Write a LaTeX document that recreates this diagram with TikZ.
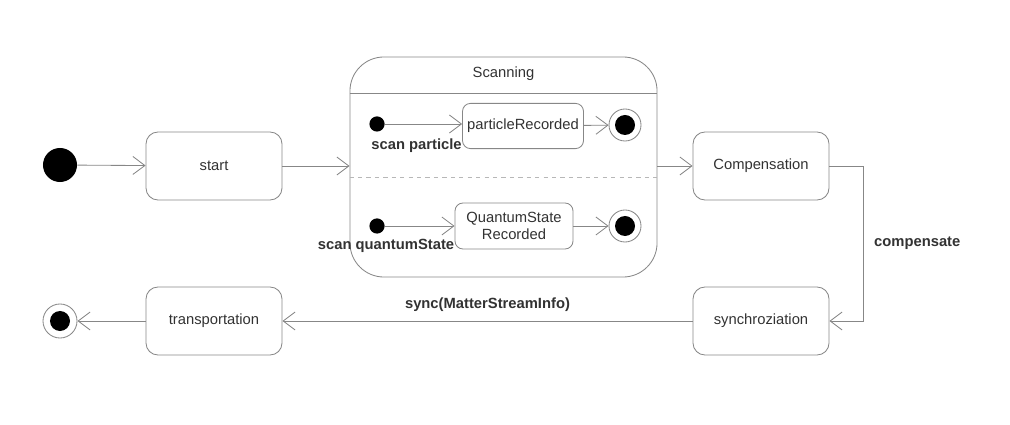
\documentclass[tikz,border=0pt]{standalone}
\usepackage{fontspec}
\setmainfont{Liberation Sans}
\usetikzlibrary{arrows.meta}

\definecolor{linegray}{RGB}{135,135,135}
\definecolor{textgray}{RGB}{50,50,50}

\tikzset{
  statebox/.style={draw=linegray, line width=0.6pt, rounded corners=3mm, text=textgray,
    minimum width=3.4cm, minimum height=1.7cm, align=center, font=\fontsize{10.5}{12.5}\selectfont},
  smallbox/.style={statebox, rounded corners=2mm, minimum width=2.95cm, minimum height=1.13cm},
  initial/.style={circle, fill=black, inner sep=0pt, minimum size=#1},
  final/.style={circle, draw=linegray, line width=0.6pt, inner sep=0pt, minimum size=0.8cm,
    path picture={\fill[black] (path picture bounding box.center) circle (0.25cm);}},
  flow/.style={draw=linegray, line width=0.6pt, -{Straight Barb[length=3mm,width=4.5mm]}},
  trlabel/.style={text=textgray, font=\fontsize{10.5}{12.5}\selectfont\bfseries}
}

\begin{document}
\begin{tikzpicture}[x=0.025cm,y=-0.025cm]

  \useasboundingbox (0,0) rectangle (1010,425);

  % main states
  \node[initial=0.85cm] (init) at (60,165) {};
  \node[statebox] (start) at (214,166) {start};
  \node[statebox] (comp) at (761,166) {Compensation};
  \node[statebox] (sync) at (761,321) {synchroziation};
  \node[statebox] (trans) at (214,321) {transportation};
  \node[final, minimum size=0.85cm] (end) at (60,321) {};

  % composite state
  \node[draw=linegray, line width=0.6pt, rounded corners=8.5mm, minimum width=7.675cm, minimum height=5.5cm] (scan) at (503.5,167) {};
  \node[text=textgray, font=\fontsize{10.5}{12.5}\selectfont] (scantitle) at (503.5,74) {Scanning};
  \draw[linegray, line width=0.6pt] (scan.west |- 0,93) -- (scan.east |- 0,93);
  \draw[linegray!60, dashed] (scan.west |- 0,177) -- (scan.east |- 0,177);

  % upper region
  \node[initial=0.38cm] (pinit) at (377,124) {};
  \node[smallbox] (prec) at (523,126) {particleRecorded};
  \node[final] (pend) at (625,125) {};

  % lower region
  \node[initial=0.38cm] (qinit) at (377,226) {};
  \node[smallbox, minimum width=2.95cm, minimum height=1.15cm] (qrec) at (514,226) {QuantumState\\[-1pt]Recorded};
  \node[final] (qend) at (625,226) {};

  % transitions
  \draw[flow] (init) -- (start);
  \draw[flow] (start.east) -- (start.east -| scan.west);
  \draw[flow] (scan.east |- comp) -- (comp);
  \draw[flow] (pinit) -- (pinit -| prec.west)
    node[trlabel, anchor=north east, inner sep=0pt, yshift=-10pt] (plabel) {scan particle};
  \draw[flow] (prec) -- (pend);
  \draw[flow] (qinit) -- (qinit -| qrec.west)
    node[trlabel, anchor=north east, inner sep=0pt, yshift=-9pt] (qlabel) {scan quantumState};
  \draw[flow] (qrec) -- (qend);
  \draw[flow] (comp.east) -- ++(34,0) |- (sync.east)
    node[trlabel, pos=0.25, right=4pt] (clabel) {compensate};
  \draw[flow] (sync) -- (trans)
    node[trlabel, midway, above=3pt] (slabel) {sync(MatterStreamInfo)};
  \draw[flow] (trans) -- (end);

\end{tikzpicture}
\end{document}
